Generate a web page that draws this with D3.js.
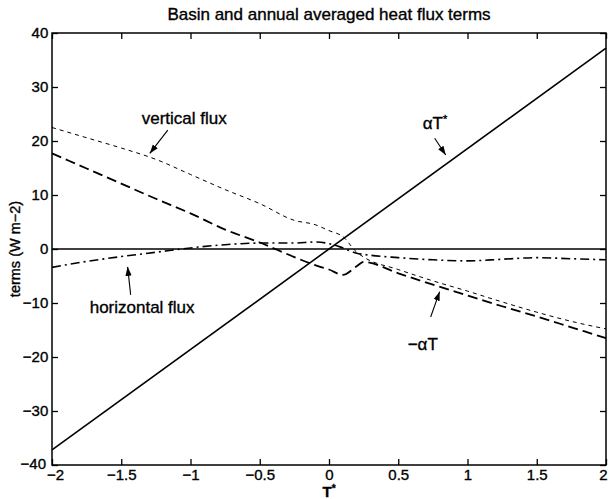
<!DOCTYPE html>
<html>
<head>
<meta charset="utf-8">
<script src="https://cdn.jsdelivr.net/npm/d3@7"></script>
<style>
  html, body { margin: 0; padding: 0; background: #fff; }
  svg { display: block; }
  text { font-family: "Liberation Sans", Arial, Helvetica, sans-serif; fill: #000; stroke: #000; stroke-width: 0.35px; }
</style>
</head>
<body>
<svg id="chart" width="609" height="499"></svg>
<script>
// ---------- data ----------
const titleText = "Basin and annual averaged heat flux terms";
const xLabelText = "T";
const yLabelText = "terms (W m\u22122)";
const xTickValues = [-2, -1.5, -1, -0.5, 0, 0.5, 1, 1.5, 2];
const yTickValues = [-40, -30, -20, -10, 0, 10, 20, 30, 40];

const tValues =        [-2, -1.75, -1.5, -1.25, -1, -0.75, -0.5, -0.25, -0.1, 0, 0.1, 0.2, 0.25, 0.5, 0.75, 1, 1.25, 1.5, 1.75, 2];
const verticalFlux =   [22.5, 20.6, 18.7, 16.6, 13.8, 11.0, 8.4, 5.3, 4.5, 3.4, 2.3, -0.6, -1.5, -3.8, -5.9, -7.8, -9.8, -11.7, -13.4, -14.8];
const minusAlphaT =    [17.7, 14.9, 12.1, 9.3, 6.6, 3.6, 1.2, -1.5, -3.0, -3.8, -4.8, -3.2, -2.4, -4.5, -6.6, -8.6, -10.6, -12.5, -14.5, -16.5];
const horizontalFlux = [-3.4, -2.3, -1.4, -0.6, 0.2, 0.8, 1.1, 1.1, 1.3, 1.0, 0.2, -0.8, -1.0, -1.6, -2.0, -2.2, -1.9, -1.6, -1.8, -2.0];
const alphaTStarT = [-2, 2];
const alphaTStar = [-37.2, 37.2];
const zeroLineT = [-2, 2];
const zeroLine = [0, 0];

// ---------- layout ----------
const svg = d3.select("#chart");
const mLeft = 52, mRight = 606, mTop = 33, mBottom = 465;
const x = d3.scaleLinear().domain([-2, 2]).range([mLeft, mRight]);
const y = d3.scaleLinear().domain([-40, 40]).range([mBottom, mTop]);

svg.append("rect").attr("width", 609).attr("height", 499).attr("fill", "#fff");

// title
svg.append("text").attr("x", (mLeft + mRight) / 2).attr("y", 20)
  .attr("text-anchor", "middle").attr("font-size", 17).text(titleText);

// axes (MATLAB style inward ticks)
const tickLen = 6;
const fmt = d => d3.format("")(d).replace("-", "\u2212");
const gB = svg.append("g").attr("transform", `translate(0,${mBottom})`)
  .call(d3.axisBottom(x).tickValues(xTickValues).tickSizeInner(-tickLen).tickSizeOuter(0).tickPadding(5).tickFormat(fmt));
const gT = svg.append("g").attr("transform", `translate(0,${mTop})`)
  .call(d3.axisTop(x).tickValues(xTickValues).tickSizeInner(-tickLen).tickSizeOuter(0).tickFormat(""));
const gL = svg.append("g").attr("transform", `translate(${mLeft},0)`)
  .call(d3.axisLeft(y).tickValues(yTickValues).tickSizeInner(-tickLen).tickSizeOuter(0).tickPadding(3).tickFormat(fmt));
const gR = svg.append("g").attr("transform", `translate(${mRight},0)`)
  .call(d3.axisRight(y).tickValues(yTickValues).tickSizeInner(-tickLen).tickSizeOuter(0).tickFormat(""));
[gB, gT, gL, gR].forEach(g => {
  g.selectAll(".domain").remove();
  g.selectAll("line").attr("stroke", "#000").attr("stroke-width", 1.3);
  g.selectAll("text").attr("font-size", 15).attr("fill", "#000")
    .style("font-family", "'Liberation Sans', Arial, sans-serif");
});
gB.selectAll("text").attr("dy", "0.65em");
gB.selectAll("text").filter(d => d === 2).attr("dx", -3);
gB.selectAll("text").filter(d => d === -2).attr("dx", 3);
gL.selectAll("text").attr("dx", "-0.05em");
gL.selectAll("text").filter(d => d === -40).attr("dx", -3).attr("dy", "0.2em");

// frame
svg.append("rect").attr("x", mLeft).attr("y", mTop).attr("width", mRight - mLeft).attr("height", mBottom - mTop)
  .attr("fill", "none").attr("stroke", "#000").attr("stroke-width", 1.5);

// axis labels
const xl = svg.append("text").attr("x", x(0)).attr("y", 497).attr("text-anchor", "middle")
  .attr("font-size", 15).attr("font-weight", "bold");
xl.append("tspan").text(xLabelText);
xl.append("tspan").attr("dy", -5).attr("font-size", 10).text("*");

svg.append("text").attr("transform", `translate(20,${y(0)}) rotate(-90)`)
  .attr("text-anchor", "middle").attr("font-size", 14.5).text(yLabelText);

// lines
const lineLinear = d3.line().x(d => x(d[0])).y(d => y(d[1]));
const lineSmooth = d3.line().x(d => x(d[0])).y(d => y(d[1])).curve(d3.curveMonotoneX);
const zip = (a, b) => a.map((v, i) => [v, b[i]]);
const plot = svg.append("g");

plot.append("path").datum(zip(zeroLineT, zeroLine)).attr("d", lineLinear)
  .attr("fill", "none").attr("stroke", "#000").attr("stroke-width", 1.6);
plot.append("path").datum(zip(alphaTStarT, alphaTStar)).attr("d", lineLinear)
  .attr("fill", "none").attr("stroke", "#000").attr("stroke-width", 1.6);
plot.append("path").datum(zip(tValues, minusAlphaT)).attr("d", lineSmooth)
  .attr("fill", "none").attr("stroke", "#000").attr("stroke-width", 1.8).attr("stroke-dasharray", "10,5");
plot.append("path").datum(zip(tValues, verticalFlux)).attr("d", lineSmooth)
  .attr("fill", "none").attr("stroke", "#000").attr("stroke-width", 1.0).attr("stroke-dasharray", "4,4");
plot.append("path").datum(zip(tValues, horizontalFlux)).attr("d", lineSmooth)
  .attr("fill", "none").attr("stroke", "#000").attr("stroke-width", 1.6).attr("stroke-dasharray", "9,4,2,4");

// arrow marker
svg.append("defs").append("marker").attr("id", "arr")
  .attr("viewBox", "0 0 10 10").attr("refX", 10).attr("refY", 5)
  .attr("markerWidth", 9).attr("markerHeight", 9).attr("markerUnits", "userSpaceOnUse")
  .attr("orient", "auto")
  .append("path").attr("d", "M0,1.5 L10,5 L0,8.5 z").attr("fill", "#000");

function arrow(t0, v0, t1, v1) {
  svg.append("line").attr("x1", x(t0)).attr("y1", y(v0)).attr("x2", x(t1)).attr("y2", y(v1))
    .attr("stroke", "#000").attr("stroke-width", 1.1).attr("marker-end", "url(#arr)");
}

// annotations
svg.append("text").attr("x", x(-1.352)).attr("y", y(23.1)).attr("font-size", 17).text("vertical flux");
arrow(-1.164, 22.0, -1.294, 17.7);

svg.append("text").attr("x", x(-1.728)).attr("y", y(-11.8)).attr("font-size", 17).text("horizontal flux");
arrow(-1.432, -8.5, -1.454, -3.3);

const at = svg.append("text").attr("x", x(0.677)).attr("y", y(22.2)).attr("font-size", 17);
at.append("tspan").text("\u03b1T");
at.append("tspan").attr("dy", -6).attr("font-size", 11).text("*");
arrow(0.763, 20.5, 0.843, 17.4);

svg.append("text").attr("x", x(0.568)).attr("y", y(-18.7)).attr("font-size", 17).text("\u2212\u03b1T");
arrow(0.734, -12.6, 0.799, -7.9);
</script>
</body>
</html>
